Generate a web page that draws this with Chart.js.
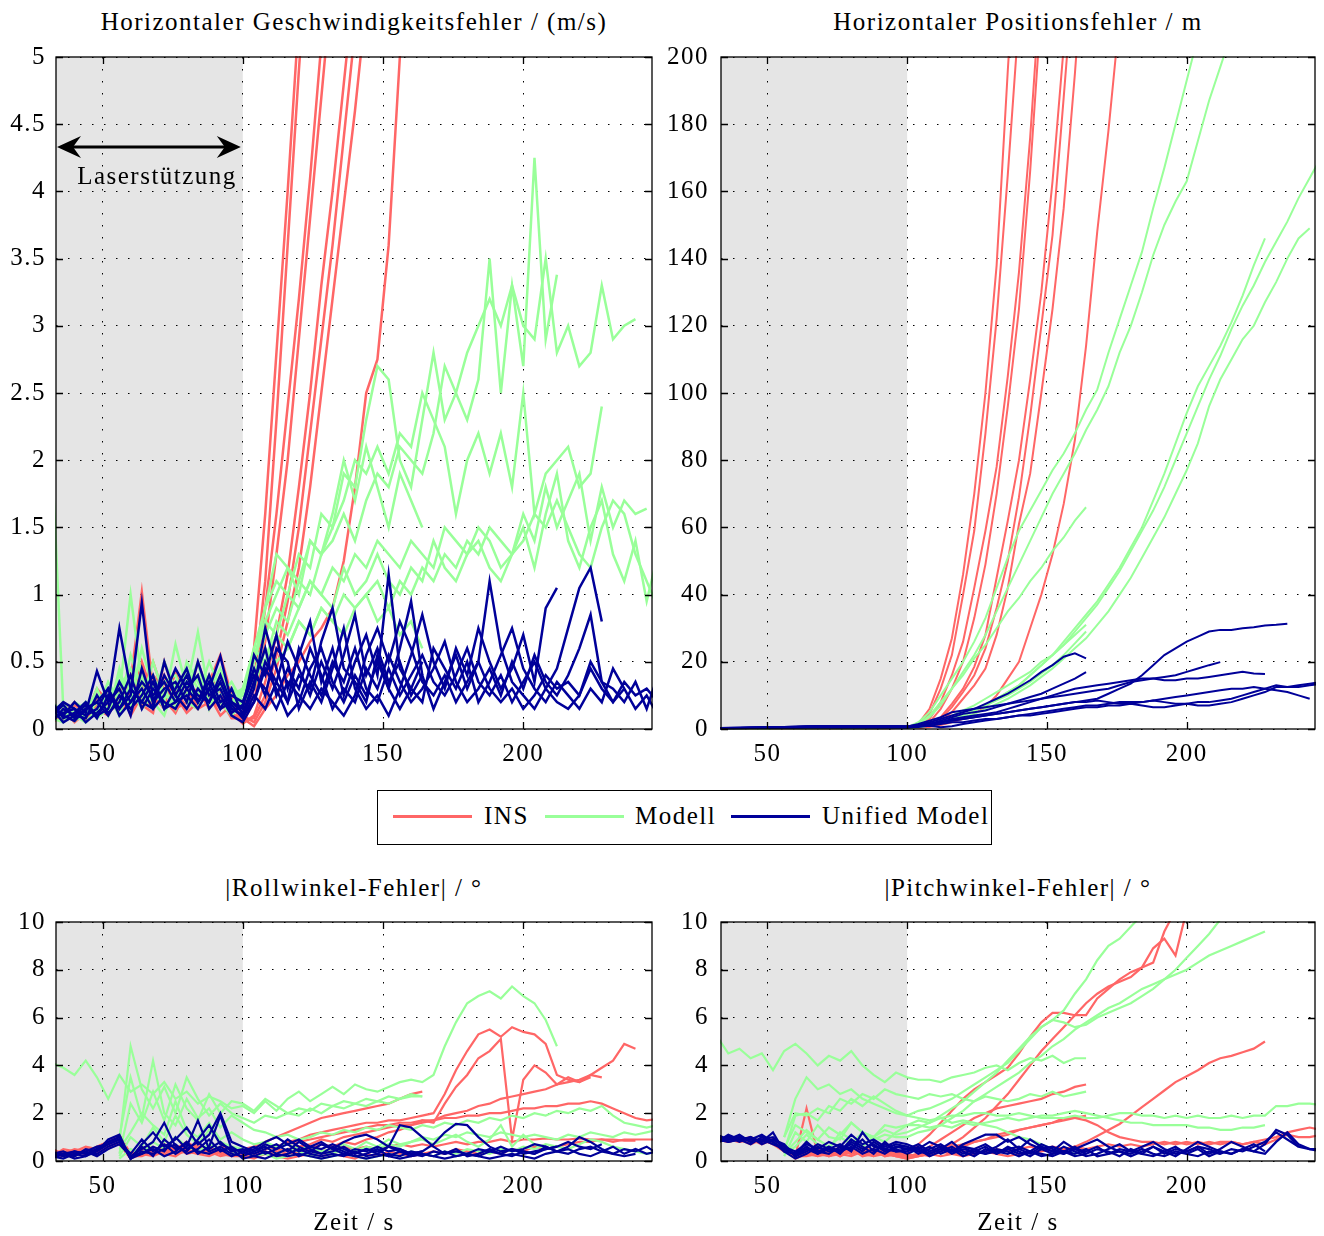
<!DOCTYPE html>
<html lang="de">
<head>
<meta charset="utf-8">
<title>Fehler INS / Modell / Unified Model</title>
<script src="https://cdn.jsdelivr.net/npm/chart.js@4.4.1/dist/chart.umd.min.js"></script>
<style>
  body { margin: 0; background: #fff; }
  #blatt { position: relative; width: 1324px; height: 1236px; font-family: 'Liberation Serif', serif; font-size: 25px; color: #000; letter-spacing: 1.5px; }
  #blatt canvas { position: absolute; }
  .txt { position: absolute; transform: translate(-50%, -50%); white-space: nowrap; }
  #legende { position: absolute; left: 377px; top: 790px; width: 615px; height: 55px; border: 1.3px solid #000; box-sizing: border-box; background: #fff; }
  #legende .strich { position: absolute; top: 24px; width: 79px; height: 2.5px; }
  #legende .name { position: absolute; top: 25px; transform: translateY(-50%); white-space: nowrap; }
</style>
</head>
<body>
<div id="blatt">
  <canvas id="cGeschw" width="662" height="740" style="left:0px;top:40px"></canvas>
  <canvas id="cPos" width="662" height="740" style="left:662px;top:40px"></canvas>
  <canvas id="cRoll" width="662" height="331" style="left:0px;top:905px"></canvas>
  <canvas id="cPitch" width="662" height="331" style="left:662px;top:905px"></canvas>

  <div class="txt" style="left:354px;top:22px">Horizontaler Geschwindigkeitsfehler / (m/s)</div>
  <div class="txt" style="left:1018px;top:22px">Horizontaler Positionsfehler / m</div>
  <div class="txt" style="left:354px;top:888px">|Rollwinkel-Fehler| / °</div>
  <div class="txt" style="left:1018px;top:888px">|Pitchwinkel-Fehler| / °</div>
  <div class="txt" style="left:354px;top:1222px">Zeit / s</div>
  <div class="txt" style="left:1018px;top:1222px">Zeit / s</div>
  <div class="txt" style="left:157px;top:176px">Laserstützung</div>

  <div id="legende">
    <span class="strich" style="left:15px;background:#ff6666"></span><span class="name" style="left:106px">INS</span>
    <span class="strich" style="left:167px;background:#99ff99"></span><span class="name" style="left:257px">Modell</span>
    <span class="strich" style="left:353px;background:#000099"></span><span class="name" style="left:444px">Unified Model</span>
  </div>
</div>

<script>
const _ = null;

// gemeinsame Zeitachse (s), Raster 4 s
const zeit = [32,36,40,44,48,52,56,60,64,68,72,76,80,84,88,92,96,
  100,104,108,112,116,120,124,128,132,136,140,144,148,152,156,160,164,168,172,176,
  180,184,188,192,196,200,204,208,212,216,220,224,228,232,236,240,244,248];
const xTicks = [50, 100, 150, 200];
const laserEnde = 100;
const yTicksGeschw = [0, 0.5, 1, 1.5, 2, 2.5, 3, 3.5, 4, 4.5, 5];
const yTicksPos = [0, 20, 40, 60, 80, 100, 120, 140, 160, 180, 200];
const yTicksWinkel = [0, 2, 4, 6, 8, 10];

// ---------- Horizontaler Geschwindigkeitsfehler (m/s) ----------
const geschwIns = [
  [.12,.08,.15,.1,.22,.18,.3,.25,.45,.2,.35,.15,.28,.4,.2,.3,.15,
   .1,.6,1.6,2.8,4,5.3],
  [.1,.15,.05,.12,.1,.25,.2,.35,1.02,.3,.18,.42,.2,.15,.35,.55,.25,
   .1,.35,1.1,2.3,3.6,4.9,6.1],
  [.15,.1,.2,.08,.15,.1,.28,.2,.3,.5,.25,.3,.15,.25,.3,.2,.1,
   .08,.3,.9,1.6,2.4,3.2,4.1,5.1],
  [.08,.12,.1,.18,.12,.3,.15,.4,.22,.15,.4,.2,.35,.18,.25,.15,.2,
   .05,.2,.65,1.3,2,2.9,3.8,4.7,5.6],
  [.18,.1,.12,.15,.25,.12,.2,.15,.5,.25,.15,.3,.25,.3,.15,.35,.12,
   .04,.1,.35,.7,1.15,1.8,2.5,3.3,4,4.8,5.6],
  [.1,.2,.08,.1,.3,.2,.35,.1,.25,.4,.3,.15,.2,.5,.25,.1,.18,
   .06,.08,.25,.55,.95,1.5,2.2,2.9,3.6,4.4,5.2],
  [.14,.06,.18,.12,.1,.15,.22,.3,.18,.12,.5,.25,.12,.2,.4,.28,.1,
   .1,.05,.2,.45,.8,1.2,1.8,2.5,3.2,3.9,4.6,5.4],
  [.05,.1,.12,.06,.18,.22,.12,.2,.35,.18,.22,.12,.3,.15,.2,.22,.08,
   .08,.02,.15,.25,.4,.5,.65,.75,.9,1.25,1.8,2.5,2.75,3.6,5,6.2]
];
const geschwModell = [
  [2,.15,.1,.2,.12,.3,.25,1,.35,.2,.5,.3,.25,.4,.2,.3,.25,
   .3,.5,.9,1.1,1,1.3,1.2,1.6,1.5,1.9, 1.8,2.3,2.7,2.6,2,1.8,2.3,2.8,2.3,2.5, 2.3,2.6,3.5,2.5,3.3,2.7,4.25,2.9,3.38],
  [.1,.08,.2,.15,.1,.2,.3,.45,.25,.4,.2,.63,.3,.72,.25,.4,.2,
   .2,.4,.7,.9,.8,1.1,1,1.3,1.4,1.6, 1.4,1.7,1.9,1.8,2.1,2,1.9,2.2,2.7,2.5, 2.8,3,3.2,3,3.3,3,2.9,3.5,2.8,3, 2.7,2.8,3.3,2.9,3,3.05],
  [.2,.12,.1,.18,.25,.15,.4,.3,.2,.5,.25,.2,.45,.3,.35,.15,.3,
   .25,.5,.8,1,1.2,1.1,1.4,1.3,1.5,1.7, 2,1.9,2.1,1.9,2.2,2.1,2.5,2.3,2.1,1.6, 2,2.2,1.9,2.2,1.8,2.5,1.6,1.9,2,2.1, 1.8,1.9,2.4],
  [.06,.15,.08,.1,.2,.3,.15,.55,.3,.2,.35,.4,.2,.25,.5,.3,.15,
   .3,.5,.8,.7,1,.9,1.1,1,1.2,1.1, 1.3,1.2,1.4,1.3,1.2,1.4,1.3,1.2,1.5,1.4, 1.3,1.5,1.4,1.2,1.3,1.6,1.4,1.8,1.5,1.7, 1.9,1.4,1.8,1.5,1.7,1.6,1.64],
  [.15,.1,.12,.2,.08,.15,.25,.2,.6,.3,.15,.25,.35,.2,.3,.45,.2,
   .25,.6,.5,.8,.7,.9,1.1,1,.9,1.2, 1,1.1,1.3,1.1,1,1.2,1.1,1.4,1.2,1.1, 1.3,1.4,1.2,1.1,1.3,1.5,1.2,1.6,1.9,1.4, 1.2,1.5,1.7,1.3,1.1,1.4,.95,1.3],
  [.12,.2,.06,.12,.15,.35,.2,.3,.15,.25,.3,.15,.5,.35,.2,.25,.35,
   .2,.3,.6,.5,.6,.8,.7,.9,.8,1, .9,1,1.1,.9,1.1,1,1.2,1.1,1.3,1.2, 1.4,1.3,1.5,1.4,1.3,1.4,1.6,1.5,1.7,1.5, 1.3,1.2,1.5,1.7,1.6,1.3,1.1,.9],
  [.08,.05,.15,.1,.3,.1,.45,.15,.4,.2,.1,.35,.2,.15,.4,.2,.1,
   .2,.4,.5,.7,.6,.8,.7,.9,.8,.7, .9,1,.8,.9,.7,.8,.6],
  [.1,.12,.1,.05,.15,.25,.1,.35,.2,.3,.15,.2,.3,.5,.15,.35,.2,
   .3,.6,.9,1.3,1.2,1,1.4,1.3,1.6,2, 1.7,2.1,1.8,1.5,1.9,1.7,1.5]
];
const geschwUnified = [
  [.15,.1,.2,.12,.43,.2,.75,.3,.2,.35,.15,.3,.45,.2,.3,.54,.2,
   .15,.55,.4,.7,.3,.55,.8,.35,.6,.25, .5,.7,.4,1.15,.45,.3,.5],
  [.1,.18,.08,.15,.2,.3,.15,.25,.94,.2,.4,.25,.15,.3,.2,.35,.15,
   .1,.3,.75,.45,.2,.4,.3,.65,.9,.45, .35,.2,.55,.3,.6,.95,.4],
  [.2,.08,.12,.2,.1,.15,.35,.2,.3,.15,.25,.45,.3,.2,.4,.2,.25,
   .2,.45,.25,.6,.5,.15,.35,.2,.45,.75, .3,.15,.25,.1,.3,.55,.85,.5,.3,.6, .4,.75,.5,.3,.45,.7,.35,.9,1.05],
  [.05,.15,.1,.08,.25,.12,.2,.4,.15,.3,.2,.15,.3,.4,.15,.25,.1,
   .05,.2,.5,.35,.65,.45,.25,.5,.3,.55, .85,.4,.6,.35,.5,.25,.4,.15,.35,.55, .3,.5,1.1,.6,.35,.25,.15,.3,.45,.75, 1.05,1.2,.8],
  [.12,.2,.15,.1,.15,.3,.1,.2,.35,.25,.35,.2,.25,.15,.3,.15,.2,
   .12,.35,.6,.25,.45,.3,.6,.4,.15,.3, .2,.45,.3,.55,.35,.2,.3,.45,.65,.35, .2,.3,.45,.25,.5,.3,.55,.35,.25,.4, .6,.85,.35,.2,.3],
  [.18,.1,.06,.15,.2,.1,.25,.15,.25,.4,.15,.2,.35,.25,.2,.4,.18,
   .08,.25,.15,.35,.2,.6,.4,.25,.5,.35, .6,.3,.2,.45,.25,.4,.55,.35,.25,.4, .6,.35,.25,.4,.2,.35,.5,.3,.2,.15, .25,.45,.3,.2,.35,.25,.3,.2],
  [.08,.12,.15,.05,.12,.2,.3,.1,.45,.2,.3,.35,.2,.5,.25,.3,.12,
   .18,.4,.3,.15,.35,.25,.15,.3,.2,.1, .25,.55,.75,.5,.8,.6,.35,.25,.4,.2, .35,.5,.3,.2,.3,.15,.25,.4,.3,.35, .25,.5,.35,.3,.2,.35,.15,.4],
  [.15,.05,.1,.18,.08,.25,.15,.3,.2,.15,.5,.25,.4,.2,.35,.15,.3,
   .1,.2,.45,.3,.1,.2,.45,.6,.35,.2, .4,.25,.5,.3,.15,.3,.2,.6,.45,.3, .5,.2,.35,.55,.75,.45,.3,.2,.35,.25, .15,.3,.2,.45,.3,.15,.25,.1]
];

// ---------- Horizontaler Positionsfehler (m) ----------
const posIns = [
  [.2,.3,.2,.3,.3,.2,.3,.3,.2,.3,.3,.3,.2,.3,.3,.3,.3, .5,1.5,6,15,27,46,70,100,138,196,250],
  [.3,.2,.3,.2,.3,.3,.3,.2,.3,.3,.2,.3,.3,.3,.3,.2,.3, .5,1,4.5,12,22,40,59,88,122,165,212,260],
  [.2,.2,.3,.3,.2,.3,.2,.3,.3,.2,.3,.3,.3,.2,.3,.3,.3, .4,.8,3,8,16,26,42,59,78,105,136,176,225],
  [.3,.3,.2,.2,.3,.3,.2,.3,.2,.3,.3,.2,.3,.3,.2,.3,.3, .4,.6,2,6,12,20,33,49,70,96,125,166,215],
  [.2,.3,.3,.2,.2,.3,.3,.3,.2,.3,.2,.3,.3,.2,.3,.3,.3, .4,.4,1.2,3.5,7.5,12,18.5,28,45,62,80,104,130,163,203,245],
  [.3,.2,.2,.3,.3,.2,.3,.2,.3,.3,.3,.2,.2,.3,.3,.3,.3, .3,.3,1,3,6.5,11,16,24,36,50,69,93,120,147,188,230],
  [.2,.3,.2,.3,.2,.3,.3,.2,.3,.2,.3,.3,.2,.3,.2,.3,.3, .3,.3,.8,2.5,5,9,13,18,28,42,61,76,100,125,155,195,240],
  [.3,.2,.3,.3,.2,.2,.3,.3,.3,.2,.3,.2,.3,.3,.3,.2,.3, .3,.3,.6,1.2,2,3,4.5,6.5,10,15,20,30,40,52,67,86,114,148,178,212]
];
const posModell = [
  [.2,.3,.3,.2,.3,.2,.3,.3,.3,.2,.3,.3,.2,.3,.3,.3,.3, .4,1.5,3.5,7,12,16,21,25,30,35,39,44,48,53,57,62,66],
  [.3,.2,.3,.3,.2,.3,.3,.2,.3,.3,.3,.2,.3,.2,.3,.3,.3, .3,.8,1.5,2.5,4,5.5,7,9,11,13,15,17,20,22,25,28,31],
  [.2,.3,.2,.3,.3,.3,.2,.3,.2,.3,.3,.3,.3,.3,.2,.3,.3, .3,.5,1,1.8,3,4.2,5.5,7,8.5,10,12,14,16.5,19,22,25.5,29],
  [.3,.3,.2,.2,.3,.3,.3,.3,.2,.2,.3,.3,.3,.2,.3,.3,.3,
   .5,2,5,10,15,20,26,33,42,51, 59,65,71,77,82,88,95,101,112,122, 132,142,155,167,180,193,206,218,230],
  [.2,.2,.3,.3,.2,.3,.3,.2,.3,.3,.2,.3,.2,.3,.3,.3,.3,
   .4,1.5,4,8,12,17,22,28,35,42, 49,56,63,70,76,82,89,95,102,112, 120,130,141,150,157,163,175,187,197,207, 217,226,235],
  [.3,.2,.2,.3,.3,.2,.3,.3,.3,.3,.2,.3,.3,.2,.3,.3,.3,
   .3,.6,1.2,2,3,4,5.5,7,9,11, 13,16,19,22,25,29,33,37,42,47, 53,59,65,72,80,88,96,104,111,119, 126,132,139,145,151,158,164,170],
  [.2,.3,.3,.3,.2,.3,.2,.3,.3,.2,.3,.3,.3,.3,.2,.3,.3,
   .3,.5,1,1.7,2.5,3.5,4.5,6,7.5,9, 11,13,15.5,18,21,24,27,31,35,40, 45,51,57,63,70,77,85,96,104,110, 116,120,127,133,140,146,149],
  [.3,.3,.2,.3,.2,.3,.3,.3,.2,.3,.3,.2,.3,.3,.3,.2,.3,
   .3,.7,1.2,2,3,4,5.5,7,9,11, 13,16,19,22,26,30,34,38,43,48, 54,60,68,76,85,94,102,108,114,121, 129,138,146]
];
const posUnified = [
  [.3,.3,.4,.4,.5,.5,.6,.7,.8,.8,.9,.8,.9,.9,.8,.9,.8,
   .8,1,1.5,2,2.5,3,3.5,4,4.5,5, 5.5,6,6.5,7,7.5,8,8.5,9,10.5,12, 13.5,16,19,22,24,26,27.5,29,29.5,29.5, 30,30.3,30.8,31,31.3],
  [.3,.4,.4,.5,.5,.6,.6,.7,.8,.9,.8,.9,.8,.9,.9,.8,.9,
   .8,1.2,2,3,4,5,6,7.5,9,10.5, 12.5,14.5,17,19,21.5,22.5,21],
  [.2,.3,.3,.4,.4,.5,.6,.6,.7,.7,.8,.7,.8,.8,.7,.8,.7,
   .7,1,1.5,2.5,3.5,4.5,5,5.5,6.5,7.5, 8.5,9.5,10.5,12,13.5,15,16.9],
  [.3,.3,.4,.4,.5,.6,.6,.7,.7,.8,.8,.8,.7,.8,.8,.7,.8,
   .7,1.5,2.5,3.5,5,5.5,6,6.5,7,7.5, 8,8.5,9,9.5,10,10.5,11,11.5,12,13, 14,14.5,15,15.5,16,17,18,19,19.9],
  [.2,.3,.3,.3,.4,.4,.5,.5,.6,.6,.6,.5,.6,.6,.5,.6,.5,
   .5,1,1.5,2,3,3.5,4,4.5,5,6, 7,8,9,10,11,12,12.5,13,13.5,14, 14.5,15,15,14.5,14.5,15,15,15.5,16,16.5, 17,16.5,16.4],
  [.3,.3,.3,.4,.4,.5,.5,.6,.6,.7,.6,.7,.6,.7,.6,.6,.6,
   .6,1,1.5,2,2.5,3,3.5,4,4.5,5, 5.5,6,6.5,7,7.5,8,8,8.5,8,7.5, 7.5,8,8.5,8,7.5,7.5,7,7,7.5,8, 9,10,11,12.5,12.5,13,13.5,14],
  [.2,.2,.3,.3,.3,.4,.4,.4,.5,.5,.5,.5,.5,.5,.5,.5,.5,
   .5,.8,1,1.5,2,2,2.5,3,3,3.5, 4,4.5,5,5.5,6,6.5,7,7,7.5,8, 8,8,8.5,9,9.5,10,10.5,11,11.5,12, 12,12.5,12,11.5,11,10,9],
  [.2,.2,.2,.3,.3,.3,.3,.4,.4,.4,.4,.4,.4,.4,.4,.4,.4,
   .4,.6,1,.5,.8,1.5,2,2.5,3,3.5, 4,4,4.5,5,5.5,6,6.5,6.5,7,7, 7.5,7,6.5,6.5,7,7.5,8,8,8.5,9, 10,11,12,13,12.5,12.5,13,13.5]
];

// ---------- |Rollwinkel-Fehler| (°) ----------
const rollIns = [
  [.4,.3,.5,.4,.6,.8,.9,.2,.6,.4,.7,.5,.6,.4,.5,.3,.4,
   .5,.6,.8,1,1.2,1.4,1.6,1.8,1.9,2, 2.1,2.2,2.3,2.4,2.6,2.8,2.9],
  [.2,.4,.3,.5,.4,.7,1,.3,.5,.3,.6,.4,.5,.7,.4,.6,.5,
   .4,.3,.5,.6,.8,.9,1.1,1.2,1.3,1.4, 1.5,1.6,1.6,1.7,1.7,1.8,1.9,2,2.8,3.8, 4.6,5.3,5.5,5.2,5.6,5.4,5.3,4.9,3.6,3.4, 3.3,3.5],
  [.3,.2,.4,.3,.5,.6,.8,.1,.4,.6,.3,.5,.8,.5,.3,.4,.3,
   .3,.4,.3,.5,.4,.6,.5,.7,.6,.8, .7,.9,1,1.2,1.3,1.5,1.7,1.6,2.4,3.1, 3.6,4.3,4.6,5.1,.9,3.4,4,3.7,3.2,3.5, 3.3,3.6,3.5],
  [.5,.3,.4,.6,.5,.7,.9,.2,.3,.5,.4,.6,.3,.4,.6,.3,.2,
   .2,.3,.5,.6,.7,.8,.9,1,1.1,1.2, 1.3,1.4,1.5,1.5,1.6,1.6,1.7,1.7,1.8,1.8, 1.9,1.9,2,2,2.1,2.2,2.2,2.3,2.3,2.4, 2.4,2.5,2.4,2.2,2,1.8,1.7,1.75],
  [.2,.5,.4,.3,.6,.8,1.1,.3,.4,.3,.5,.3,.4,.6,.4,.5,.3,
   .3,.2,.4,.3,.5,.6,.7,.9,.8,1, 1.1,1.2,1.3,1.4,1.5,1.5,1.6,1.7,1.9,2, 2.1,2.3,2.4,2.6,2.7,2.8,2.9,3,3.2,3.3, 3.4,3.6,3.9,4.2,4.9,4.7],
  [.4,.2,.3,.4,.3,.6,.7,.1,.3,.2,.4,.6,.4,.3,.2,.4,.3,
   .3,.2,.3,.4,.3,.4,.5,.4,.5,.6, .5,.6,.5,.6,.7,.6,.7,.6,.7,.8, .7,.8,.8,.9,.8,.9,.9,.95,.9,.9, .95,.9,.9,.9,.85,.85],
  [.3,.4,.2,.5,.4,.5,.8,.2,.2,.4,.3,.2,.5,.3,.4,.2,.3,
   .2,.1,.3,.2,.1,.2,.3,.2,.3,.2, .1,.3,.2,.4,.3,.2,.3,.4,.3,.5, .4,.3,.4,.3,.5,.4,.6,.5,.6,.7, .8,.8,.9,.8,.9,.9,.9,.9]
];
const rollModell = [
  [4.1,3.9,3.6,4.2,3.5,2.6,3.6,2.9,3.2,2.8,3.3,2.6,2.9,2.4,2.7,2.5,2.2,
   2.3,2,2.5,2.1,2.6,2.9,2.5,2.8,3.1,2.8, 3.2,3,2.9,3.1,3.3,3.4,3.3,3.6,4.8,5.8, 6.6,6.9,7.1,6.8,7.3,6.9,6.6,5.9,4.8],
  [_,_,_,_,_,_,.8,4.8,3,2.2,3.1,2,3.5,2.6,1.9,2.4,2,
   1.8,1.6,1.9,1.8,2,2.2,2.1,2.4,2.3,2.5, 2.4,2.6,2.5,2.7,2.6,2.8,2.7],
  [_,_,_,_,_,_,1,3.5,1.8,4.2,2,1.5,2.6,1.8,2.2,1.4,1.9,
   1.6,1.3,1.2,1,1.1,.9,1,1.2,1.1,1.3, 1.2,1.4,1.3,1.5,1.4,1.3,1.5,1.4,1.6,1.5, 1.7,1.6,1.8,1.7,1.9,1.8,2,1.9,2.1,2, 2.2,2.1,2.3,1.9,1.6,1.5,1.4,1.5],
  [_,_,_,_,_,_,.5,1.2,2,1.5,1.1,2.5,1.3,1,1.6,.9,1.2,
   .9,.7,.8,.6,.7,.5,.6,.4,.5,.7, .5,.8,.6,.9,.7,.8,1,.9,1.1,1, 1.2,1.1,1,1.2,1.1,1,1.1,1,.9,1.1, 1,1.2,1.1,1,1.2,1.1,1.2,1.3],
  [_,_,_,_,_,_,.3,2.4,1.6,2.9,1.7,3.2,2.2,1.7,2.8,2,2.5,
   2.4,2.1,2.6,2.3,2,1.9,2.2,2,2.3,2.2, 2.4,2.3,2.5,2.4,2.6,2.7,2.7],
  [_,_,_,_,_,_,.2,1,.6,1.4,.8,1.9,1.1,.7,1.3,.8,.6,
   .5,.4,.6,.3,.5,.4,.2,.4,.3,.5, .4,.6,.5,.7,.6,.8,.9,.7,.9,1.1, .8,.6,.9,1.5,.6,1.1,.7,.5,.6],
  [_,_,_,_,_,_,.1,.5,.3,.8,.5,1,.6,.4,.7,.5,.3,
   .4,.2,.3,.1,.2,.3,.2,.1,.2,.3, .2,.1,.2,.3,.2,.4,.3,.2,.4,.3, .5,.4,.3,.5,.4,.6,.5,.7,.6,.5, .7,.9,.8,.6,.5,.4,.3,.4]
];
const rollUnified = [
  [.3,.2,.4,.3,.5,.8,1,.1,.7,1.2,.6,.9,1.4,.7,1.1,2,.8,
   .6,.4,.7,.5,.9,.6,.4,.7,.5,.8, 1,1.1,.9,.6,1.5,1.4,1,.6,.3,.4, .3,.5,.4,.3,.5,.4,.3,.5,.6],
  [.2,.3,.2,.4,.6,.7,.9,.2,.5,.8,1.6,.6,.4,.9,1.5,.7,.5,
   .4,.6,.3,.5,.7,.4,.6,.8,.5,.3, .5,.4,.6,.4,.5,.3,.4,.7,1.2,1.55, 1.5,1,.6,.4,.5,.3,.4,.5,.6,.8, .6,.5,.7],
  [.4,.2,.3,.2,.4,.9,1.1,.1,.3,.6,.4,1,.5,.8,.4,.6,.3,
   .2,.4,.6,.3,.5,.2,.4,.3,.6,.4, .2,.3,.5,.2,.4,.3,.2,.4,.3,.5, .2,.3,.5,.3,.2,.4,.3,.6,.4,.5, .3,.2,.4,.6,.3,.5,.3,.4],
  [.1,.3,.4,.3,.3,.6,.8,.3,.9,.4,.7,.3,.6,1.7,.5,.8,.4,
   .5,.3,.5,.7,.4,.8,.5,.3,.4,.6, .3,.5,.3,.6,.4,.2,.3,.2,.4,.2, .3,.2,.4,.6,.4,.5,.7,.6,.4,.3, .5,.6,.4,.3,.5,.4,.6,.3],
  [.3,.4,.2,.5,.4,.7,.9,.1,.4,.3,.5,.7,.3,.5,.9,.4,.6,
   .3,.5,.8,1,.7,.9,.6,.5,.7,.5, .3,.5,.4,.6,.5,.3,.4],
  [.2,.1,.3,.4,.2,.5,.7,.2,.3,.5,.2,.4,.8,.3,.6,1.9,.5,
   .1,.2,.4,.2,.3,.5,.3,.2,.3,.2, .4,.2,.3,.2,.1,.2,.3],
  [.3,.3,.1,.2,.5,.8,1,.1,.6,.2,.9,.5,.7,.4,.3,.5,.2,
   .4,.2,.1,.3,.2,.3,.2,.1,.2,.3, .2,.1,.2,.3,.2,.4,.3,.2,.1,.2, .3,.2,.1,.2,.3,.2,.1,.3,.4,.6, 1,.8,.5,.3,.2,.3]
];

// ---------- |Pitchwinkel-Fehler| (°) ----------
const pitchIns = [
  [.9,.8,1,.8,.9,.7,.5,.3,.4,.2,.3,.5,.3,.4,.2,.3,.2,
   .3,.7,1.1,1.6,2.1,2.6,3,3.3,3.6,3.9, 4.5,5.2,5.8,6.2,6.2,6.1,6.1,6.8,7.2,7.6, 7.9,8.1,8.3,9.6,10.5],
  [1,.9,.8,.9,.8,.9,.6,.2,2.2,.3,.4,.2,.5,.3,.4,.3,.2,
   .1,.2,.3,.5,.7,1,1.4,1.8,2.3,2.8, 3.4,4,4.6,5.1,5.6,6.1,6.6,7,7.3,7.5, 7.7,8.1,8.9,9.3,8.6,10.5],
  [.8,1,.9,.7,.9,.8,.4,.3,.5,.4,.2,.4,.3,.6,.4,.2,.3,
   .1,.3,.6,.9,1.2,1.5,1.8,2,2.2,2.3, 2.4,2.5,2.6,2.8,2.9,3.1,3.2],
  [.9,.8,.9,1,.8,.8,.5,.1,.3,.2,.4,.3,.5,.2,.3,.5,.3,
   .2,.3,.2,.4,.3,.2,.3,.4,.3,.2, .3,.4,.4,.5,.5,.6,.8,1.05,1.3,1.55, 1.9,2.25,2.6,2.95,3.3,3.55,3.8,4.1,4.3,4.4, 4.55,4.7,5],
  [1,.9,.8,.9,.7,.9,.6,.2,.2,.3,.2,.3,.2,.4,.5,.3,.4,
   .2,.3,.4,.5,.6,.7,.8,.9,1,1.1, 1.3,1.4,1.5,1.6,1.8,1.8,1.7,1.5,1.2,1, .9,.8,.8,.7,.8,.7,.8,.7,.8,.8, .7,.8,.9,1,1.2,1.3,1.4,1.3],
  [.8,.9,1,.8,.9,.7,.4,.2,.4,.3,.5,.2,.4,.3,.2,.4,.2,
   .1,.2,.3,.4,.5,.6,.8,.9,1.1,1.2, 1.3,1.4,1.5,1.6,1.7,1.8,1.9],
  [.9,1,.9,.8,.8,.9,.5,.3,.3,.5,.3,.6,.4,.3,.5,.2,.3,
   .3,.2,.3,.2,.3,.4,.3,.4,.5,.4, .5,.6,.5,.6,.5,.6,.5,.6,.7,.6, .7,.6,.7,.8,.7,.8,.7,.8,.7,.8, .7,.8,.7,.9,1.1,1,1,1.1]
];
const pitchModell = [
  [5.2,4.5,4.7,4.3,4.5,3.8,4.6,4.9,4.5,4,4.4,4.2,4.6,4,3.6,3.3,3.7,
   3.5,3.4,3.4,3.3,3.5,3.6,3.7,3.9,4,3.8, 4.1,4.3,4.2,4.4,4.1,4.3,4.3],
  [_,_,_,_,_,_,1,2.6,3.5,3,3.2,2.8,3,2.6,2.4,2.2,2,
   1.9,2.1,2.2,2.4,2.6,2.9,3.2,3.5,3.8,4.1, 4.6,5.1,5.6,5.9,6.3,7,7.6,8.4,9,9.3, 9.8,10.3],
  [_,_,_,_,_,_,.5,1.5,1.2,.9,1.4,1.1,1.6,1.2,1,1.3,1.1,
   1.2,1.4,1.6,1.9,2.2,2.5,2.9,3.3,3.7,4.2, 4.7,5.2,5.6,5.9,5.8,5.6,5.7,6,6.2,6.4, 6.6,6.9,7.2,7.6,8,8.5,9,9.5,10.1],
  [_,_,_,_,_,_,.3,.8,1.3,.9,.6,1,.7,1.2,.9,1.1,1,
   1,1.2,1.3,1.5,1.8,2.1,2.5,2.8,3.1,3.4, 3.7,4.1,4.4,4.8,5.1,5.5,5.8,6.1,6.4,6.6, 6.9,7.2,7.4,7.6,7.8,8,8.3,8.6,8.8,9, 9.2,9.4,9.6],
  [_,_,_,_,_,_,1,2,1.9,2.2,2,2.6,2.4,2.8,2.6,3,2.8,
   2.7,2.6,2.8,2.7,2.8,2.6,2.5,2.7,2.6,2.5, 2.6,2.8,2.7,2.9,2.7,2.8,2.9],
  [_,_,_,_,_,_,.4,1.9,2,1.7,2.3,2.1,2.6,2.3,2.7,2.4,2.1,
   1.9,1.8,1.7,1.8,1.9,1.9,2,2,1.9,1.9, 2,1.9,1.8,1.8,1.8,1.9,1.8,1.8,1.9,2, 2,1.9,1.9,1.8,1.9,1.8,1.9,1.8,1.8,1.9, 1.8,1.9,1.9,2.3,2.3,2.4,2.4,2.35],
  [_,_,_,_,_,_,.2,1.2,.8,1.5,1,.9,1.6,1.2,1,1.5,1.4,
   1.5,1.5,1.4,1.5,1.4,1.6,1.5,1.6,1.7,1.8, 1.7,1.8,1.9,1.9,2,2.1,2,1.9,1.8,1.7, 1.6,1.6,1.5,1.5,1.5,1.5,1.4,1.4,1.3,1.3, 1.4,1.4,1.5],
  [_,_,_,_,_,_,.3,.6,1.1,.7,.5,1.2,.9,.6,1,.8,1.2,
   1.5,1.7,1.6,1.8,1.6,1.7,1.6,1.5,1.4,1.2, 1,.9,.7,.5,.4,.3,.5]
];
const pitchUnified = [
  [1.1,.9,1,.8,.9,1,.6,.4,.7,.5,.8,.6,1.1,.7,.9,.6,.8,
   .7,.5,.8,.6,.4,.7,.9,1.1,1.1,.8, 1,.7,.5,.6,.4,.6,.3],
  [.9,1,.8,1,.7,.9,.7,.2,.5,.4,.6,.3,.8,.5,.7,.4,.6,
   .5,.7,.4,.6,.3,.5,.4,.6,.3,.5, .6,.4,.7,.5,.3,.5,.7,.9,.6,.4, .2,.4,.6,.3,.5,.4,.6,.3,.5,.8, .6,.4,.3,.8,1.2,.7,.5,.5],
  [1,.8,.9,.7,1,.8,.5,.3,.6,.3,.5,.7,.4,1.2,.6,.5,.4,
   .4,.6,.3,.5,.8,.4,.2,.5,.3,.6, .4,.2,.5,.3,.6,.4,.2,.3,.5,.7, .4,.3,.2,.4,.6,.3,.5,.2,.4,.3, .5,.4,.7,1.3,1.1,.6],
  [.8,1.1,.9,.9,.8,1.2,.4,.1,.3,.6,.4,.5,.7,.4,.8,.5,.7,
   .6,.3,.5,.7,.4,.6,.3,.4,.6,.9, .5,.3,.6,.4,.8,.5,.3,.5,.4,.2, .5,.3,.6,.4,.2,.5,.8,.6,.4,.3, .5,.7,.4],
  [1,.9,1.1,.8,.9,.7,.5,.3,.8,.4,.3,.6,.5,.9,.4,.7,.5,
   .3,.5,.2,.4,.6,.3,.5,.7,.4,.3, .5,.9,.6,.4,.3,.5,.4,.6,.3,.5, .4,.6,.8,.5,.3,.4,.6,.5,.3],
  [.9,.8,.9,1,.8,.9,.6,.2,.4,.7,.5,.4,.9,.6,.3,.8,.4,
   .5,.4,.6,.3,.5,.2,.4,.3,.5,.4, .2,.4,.3,.2,.4,.3,.5,.2,.3,.4, .3,.5,.3,.2,.4,.3,.2,.4,.3,.5, .4,.6,.8,1.2,.9,.6,.5,.4],
  [.8,.9,1,.9,1.1,.8,.4,.3,.5,.3,.6,.4,.6,.3,.5,.3,.6,
   .6,.4,.3,.5,.4,.6,.5,.3,.4,.5, .3,.4,.2,.3,.4,.2,.3]
];

const FARBE_INS = '#ff6666';
const FARBE_MODELL = '#99ff99';
const FARBE_UNIFIED = '#000099';

Chart.defaults.font.family = "'Liberation Serif', serif";
Chart.defaults.font.size = 25;
Chart.defaults.color = '#000';

// grauer Bereich, Rahmen mit Innenticks, Pfeil
const rahmenPlugin = {
  id: 'rahmen',
  beforeDraw(chart) {
    const { ctx, chartArea: a, scales: { x } } = chart;
    const xr = x.getPixelForValue(laserEnde);
    ctx.save();
    ctx.fillStyle = '#e5e5e5';
    ctx.fillRect(a.left, a.top, xr - a.left, a.bottom - a.top);
    ctx.restore();
  },
  afterDraw(chart, args, opts) {
    const { ctx, chartArea: a, scales: { x, y } } = chart;
    ctx.save();
    ctx.strokeStyle = '#000';
    ctx.lineWidth = 1.3;
    ctx.strokeRect(a.left, a.top, a.right - a.left, a.bottom - a.top);
    ctx.beginPath();
    x.ticks.forEach(t => {
      const p = Math.round(x.getPixelForValue(t.value)) + 0.5;
      ctx.moveTo(p, a.bottom); ctx.lineTo(p, a.bottom - 7);
      ctx.moveTo(p, a.top); ctx.lineTo(p, a.top + 7);
    });
    y.ticks.forEach(t => {
      const p = Math.round(y.getPixelForValue(t.value)) + 0.5;
      ctx.moveTo(a.left, p); ctx.lineTo(a.left + 7, p);
      ctx.moveTo(a.right, p); ctx.lineTo(a.right - 7, p);
    });
    ctx.stroke();
    if (opts && opts.pfeil) {
      const py = y.getPixelForValue(opts.pfeil.y);
      const x0 = a.left + 1;
      const x1 = x.getPixelForValue(opts.pfeil.bis) - 2;
      ctx.lineWidth = 3;
      ctx.beginPath();
      ctx.moveTo(x0 + 10, py); ctx.lineTo(x1 - 10, py);
      ctx.stroke();
      ctx.fillStyle = '#000';
      [[x0, -1], [x1, 1]].forEach(([px, d]) => {
        ctx.beginPath();
        ctx.moveTo(px, py);
        ctx.lineTo(px - d * 24, py - 11);
        ctx.lineTo(px - d * 16, py);
        ctx.lineTo(px - d * 24, py + 11);
        ctx.closePath();
        ctx.fill();
      });
    }
    ctx.restore();
  }
};

function serien(liste, farbe, ordnung, breite) {
  return liste.map(werte => ({
    data: werte.map((v, i) => ({ x: zeit[i], y: v })),
    borderColor: farbe,
    borderWidth: breite,
    pointRadius: 0,
    tension: 0,
    fill: false,
    order: ordnung,
    clip: 1
  }));
}

function diagramm(id, yMax, yTicks, ins, modell, unified, breite, yBreite, yPad, rechts, xHoehe, pfeil) {
  const datasets = [
    ...serien(ins, FARBE_INS, 3, breite),
    ...serien(modell, FARBE_MODELL, 2, breite),
    ...serien(unified, FARBE_UNIFIED, 1, breite)
  ];
  return new Chart(document.getElementById(id), {
    type: 'line',
    data: { datasets },
    options: {
      animation: false,
      responsive: false,
      devicePixelRatio: 1,
      events: [],
      layout: { padding: { top: 17, right: rechts, left: 0, bottom: 0 } },
      plugins: {
        legend: { display: false },
        tooltip: { enabled: false },
        rahmen: { pfeil: pfeil }
      },
      scales: {
        x: {
          type: 'linear', min: 33.4, max: 245.9,
          afterBuildTicks: s => { s.ticks = xTicks.map(v => ({ value: v })); },
          afterFit: s => { s.height = xHoehe; s.paddingLeft = 0; s.paddingRight = 0; },
          grid: { color: '#000', lineWidth: 1, drawTicks: false },
          border: { display: false, dash: [1.5, 10.5] },
          ticks: { padding: 10, maxRotation: 0, autoSkip: false, callback: v => String(v) }
        },
        y: {
          type: 'linear', min: 0, max: yMax,
          afterBuildTicks: s => { s.ticks = yTicks.map(v => ({ value: v })); },
          afterFit: s => { s.width = yBreite; s.paddingTop = 0; s.paddingBottom = 0; },
          grid: { color: '#000', lineWidth: 1, drawTicks: false },
          border: { display: false, dash: [1.5, 10.5] },
          ticks: { padding: yPad, autoSkip: false, callback: v => String(v) }
        }
      }
    },
    plugins: [rahmenPlugin]
  });
}

diagramm('cGeschw', 5, yTicksGeschw, geschwIns, geschwModell, geschwUnified, 2.5, 56, 10, 10, 51,
  { y: 4.33, bis: laserEnde });
diagramm('cPos', 200, yTicksPos, posIns, posModell, posUnified, 2, 59, 12, 9, 51, null);
diagramm('cRoll', 10, yTicksWinkel, rollIns, rollModell, rollUnified, 2.2, 56, 10, 10, 75, null);
diagramm('cPitch', 10, yTicksWinkel, pitchIns, pitchModell, pitchUnified, 2.2, 59, 12, 9, 75, null);
</script>
</body>
</html>
